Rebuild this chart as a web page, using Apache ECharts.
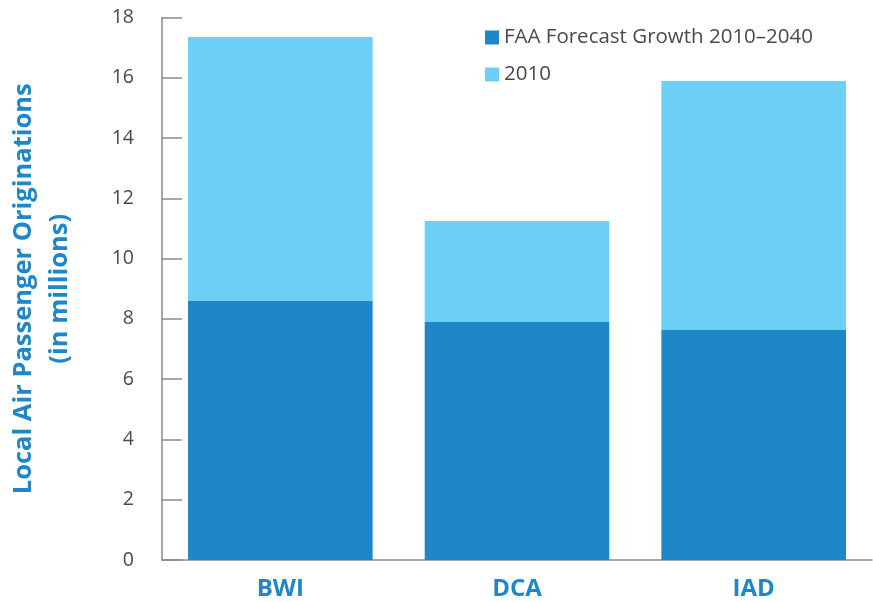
<!DOCTYPE html>
<html>
<head>
<meta charset="utf-8">
<script src="https://cdn.jsdelivr.net/npm/echarts@6/dist/echarts.min.js"></script>
<style>
  html, body { margin: 0; padding: 0; background: #fff; }
  #chart { width: 873px; height: 602px; }
</style>
</head>
<body>
<div id="chart"></div>
<script>
const airports = ['BWI', 'DCA', 'IAD']
const growthValues = [8.59, 7.9, 7.63]
const baseValues = [8.76, 3.35, 8.26]
const yTicks = [0, 2, 4, 6, 8, 10, 12, 14, 16, 18]

const darkBlue = '#1e87c8'
const lightBlue = '#6dcff6'
const axisGray = '#8a8a8a'
const textGray = '#4a4a4a'

const chart = echarts.init(document.getElementById('chart'))
chart.setOption({
  animation: false,
  textStyle: {
    fontFamily: 'Open Sans'
  },
  legend: {
    orient: 'vertical',
    left: 480,
    top: 22,
    itemWidth: 14,
    itemHeight: 14,
    itemGap: 16,
    icon: 'rect',
    textStyle: {
      fontSize: 20.5,
      color: textGray,
      padding: [0, 0, 0, 0]
    },
    data: ['FAA Forecast Growth 2010–2040', '2010']
  },
  grid: {
    left: 162,
    right: 1,
    top: 17.5,
    bottom: 42,
    outerBoundsMode: 'none'
  },
  xAxis: {
    type: 'category',
    data: airports,
    axisLine: { lineStyle: { color: axisGray, width: 1.5 } },
    axisTick: { inside: true, length: 14, lineStyle: { color: axisGray, width: 1.5 } },
    axisLabel: {
      margin: 17,
      fontSize: 24,
      fontWeight: 'bold',
      color: darkBlue
    }
  },
  yAxis: {
    type: 'value',
    min: yTicks[0],
    max: yTicks[yTicks.length - 1],
    interval: 2,
    name: 'Local Air Passenger Originations\n(in millions)',
    nameLocation: 'middle',
    nameGap: 84,
    nameTextStyle: {
      fontSize: 25.5,
      fontWeight: 'bold',
      color: darkBlue,
      lineHeight: 36
    },
    axisLine: { show: true, lineStyle: { color: axisGray, width: 1.5 } },
    axisTick: { show: true, inside: true, length: 20, lineStyle: { color: axisGray, width: 1.5 } },
    splitLine: { show: false },
    axisLabel: {
      margin: 28,
      fontSize: 19.5,
      color: textGray
    }
  },
  series: [
    {
      name: 'FAA Forecast Growth 2010–2040',
      type: 'bar',
      stack: 'total',
      barWidth: '78%',
      itemStyle: { color: darkBlue },
      data: growthValues
    },
    {
      name: '2010',
      type: 'bar',
      stack: 'total',
      barWidth: '78%',
      itemStyle: { color: lightBlue },
      data: baseValues
    }
  ]
})
</script>
</body>
</html>
